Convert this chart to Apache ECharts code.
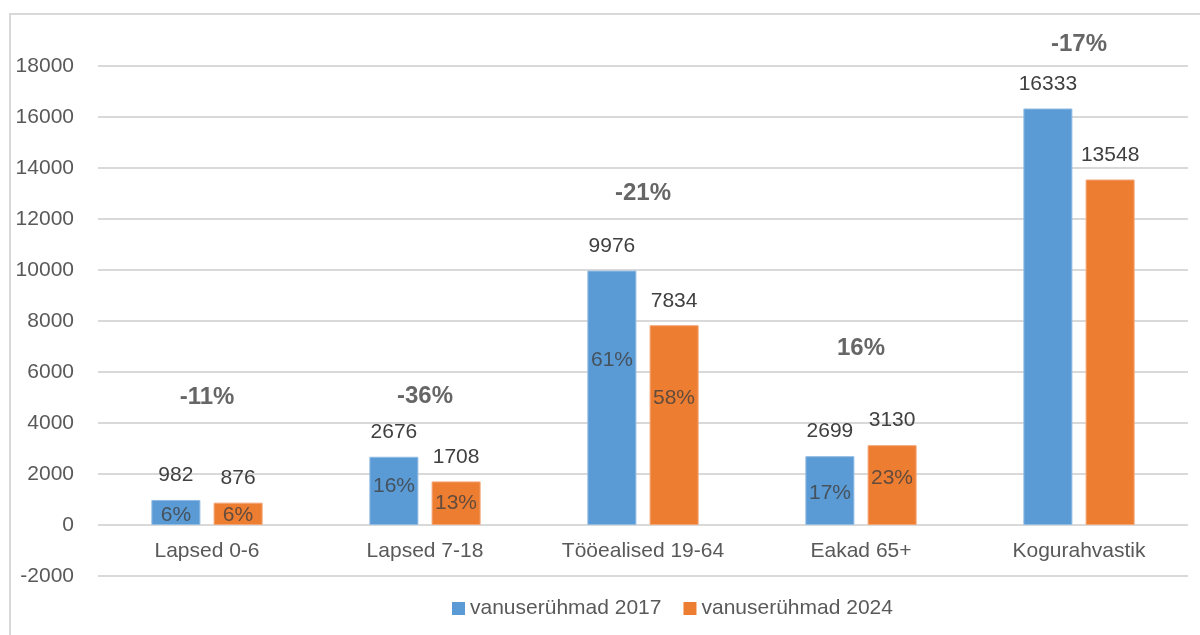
<!DOCTYPE html>
<html>
<head>
<meta charset="utf-8">
<script src="https://cdn.jsdelivr.net/npm/echarts@6/dist/echarts.min.js"></script>
<style>
  html, body { margin: 0; padding: 0; background: #fff; }
  #chart { width: 1200px; height: 635px; }
</style>
</head>
<body>
<div id="chart"></div>
<script>
// vanuserühmad
const categories = ["Lapsed 0-6", "Lapsed 7-18", "Tööealised 19-64", "Eakad 65+", "Kogurahvastik"];
const values2017 = [982, 2676, 9976, 2699, 16333];
const values2024 = [876, 1708, 7834, 3130, 13548];

// osakaal kogurahvastikust (tekst + koht teljel)
const share2017 = ["6%", "16%", "61%", "17%", ""];
const share2017At = [390, 1530, 6470, 1250, null];
const share2024 = ["6%", "13%", "58%", "23%", ""];
const share2024At = [390, 860, 4980, 1840, null];

// muutus 2017 -> 2024
const change = ["-11%", "-36%", "-21%", "16%", "-17%"];
const changeAt = [5020, 5060, 13020, 6940, 18860];

const FONT = "Liberation Sans";
const BLUE = "#5B9BD5";
const ORANGE = "#ED7D31";

const chart = echarts.init(document.getElementById("chart"));

const shareSeries = (texts, at, dx) => ({
  type: "scatter",
  data: at.map((v, i) => ({ value: v, label: { formatter: texts[i] } })),
  symbolSize: 0,
  clip: false,
  silent: true,
  label: {
    show: true,
    position: "inside",
    offset: [dx, 0],
    color: "#404040",
    fontSize: 21,
    fontFamily: FONT,
  },
  z: 5,
});

const option = {
  animation: false,
  textStyle: { fontFamily: FONT },
  graphic: [
    {
      type: "rect",
      shape: { x: 10, y: 14, width: 1200, height: 640 },
      style: { fill: "none", stroke: "#d9d9d9", lineWidth: 2 },
      silent: true,
    },
  ],
  grid: { left: 98, right: 12, top: 66, bottom: 59 },
  legend: {
    left: 447,
    top: 593,
    itemWidth: 13,
    itemHeight: 13,
    itemGap: 22,
    itemStyle: { borderWidth: 0 },
    icon: "rect",
    data: ["vanuserühmad 2017", "vanuserühmad 2024"],
    textStyle: { color: "#595959", fontSize: 21, fontFamily: FONT },
  },
  xAxis: {
    type: "category",
    data: categories,
    offset: -51,
    axisLine: { show: false },
    axisTick: { show: false },
    axisLabel: { color: "#595959", fontSize: 21, margin: 16, fontFamily: FONT },
  },
  yAxis: {
    type: "value",
    min: -2000,
    max: 18000,
    interval: 2000,
    axisLine: { show: false },
    axisTick: { show: false },
    axisLabel: {
      color: "#595959",
      fontSize: 21,
      margin: 24,
      fontFamily: FONT,
      formatter: (v) => String(v),
    },
    splitLine: { lineStyle: { color: "#d9d9d9", width: 2 } },
  },
  series: [
    {
      name: "vanuserühmad 2017",
      type: "bar",
      data: values2017,
      barWidth: 49,
      barGap: "27%",
      itemStyle: { color: BLUE, borderColor: "#8fbbe3", borderWidth: 1 },
      label: {
        show: true,
        position: "top",
        distance: 14,
        color: "#404040",
        fontSize: 21,
        fontFamily: FONT,
      },
    },
    {
      name: "vanuserühmad 2024",
      type: "bar",
      data: values2024,
      barWidth: 49,
      itemStyle: { color: ORANGE, borderColor: "#f3a575", borderWidth: 1 },
      label: {
        show: true,
        position: "top",
        distance: 14,
        color: "#404040",
        fontSize: 21,
        fontFamily: FONT,
      },
    },
    shareSeries(share2017, share2017At, -31),
    shareSeries(share2024, share2024At, 31),
    {
      type: "scatter",
      data: changeAt.map((v, i) => ({ value: v, label: { formatter: change[i] } })),
      symbolSize: 0,
      clip: false,
      silent: true,
      label: {
        show: true,
        position: "inside",
        color: "#404040",
        fontSize: 24,
        fontWeight: "bold",
        fontFamily: FONT,
      },
    },
  ],
};

chart.setOption(option);
window.addEventListener("resize", chart.resize);
</script>
</body>
</html>
